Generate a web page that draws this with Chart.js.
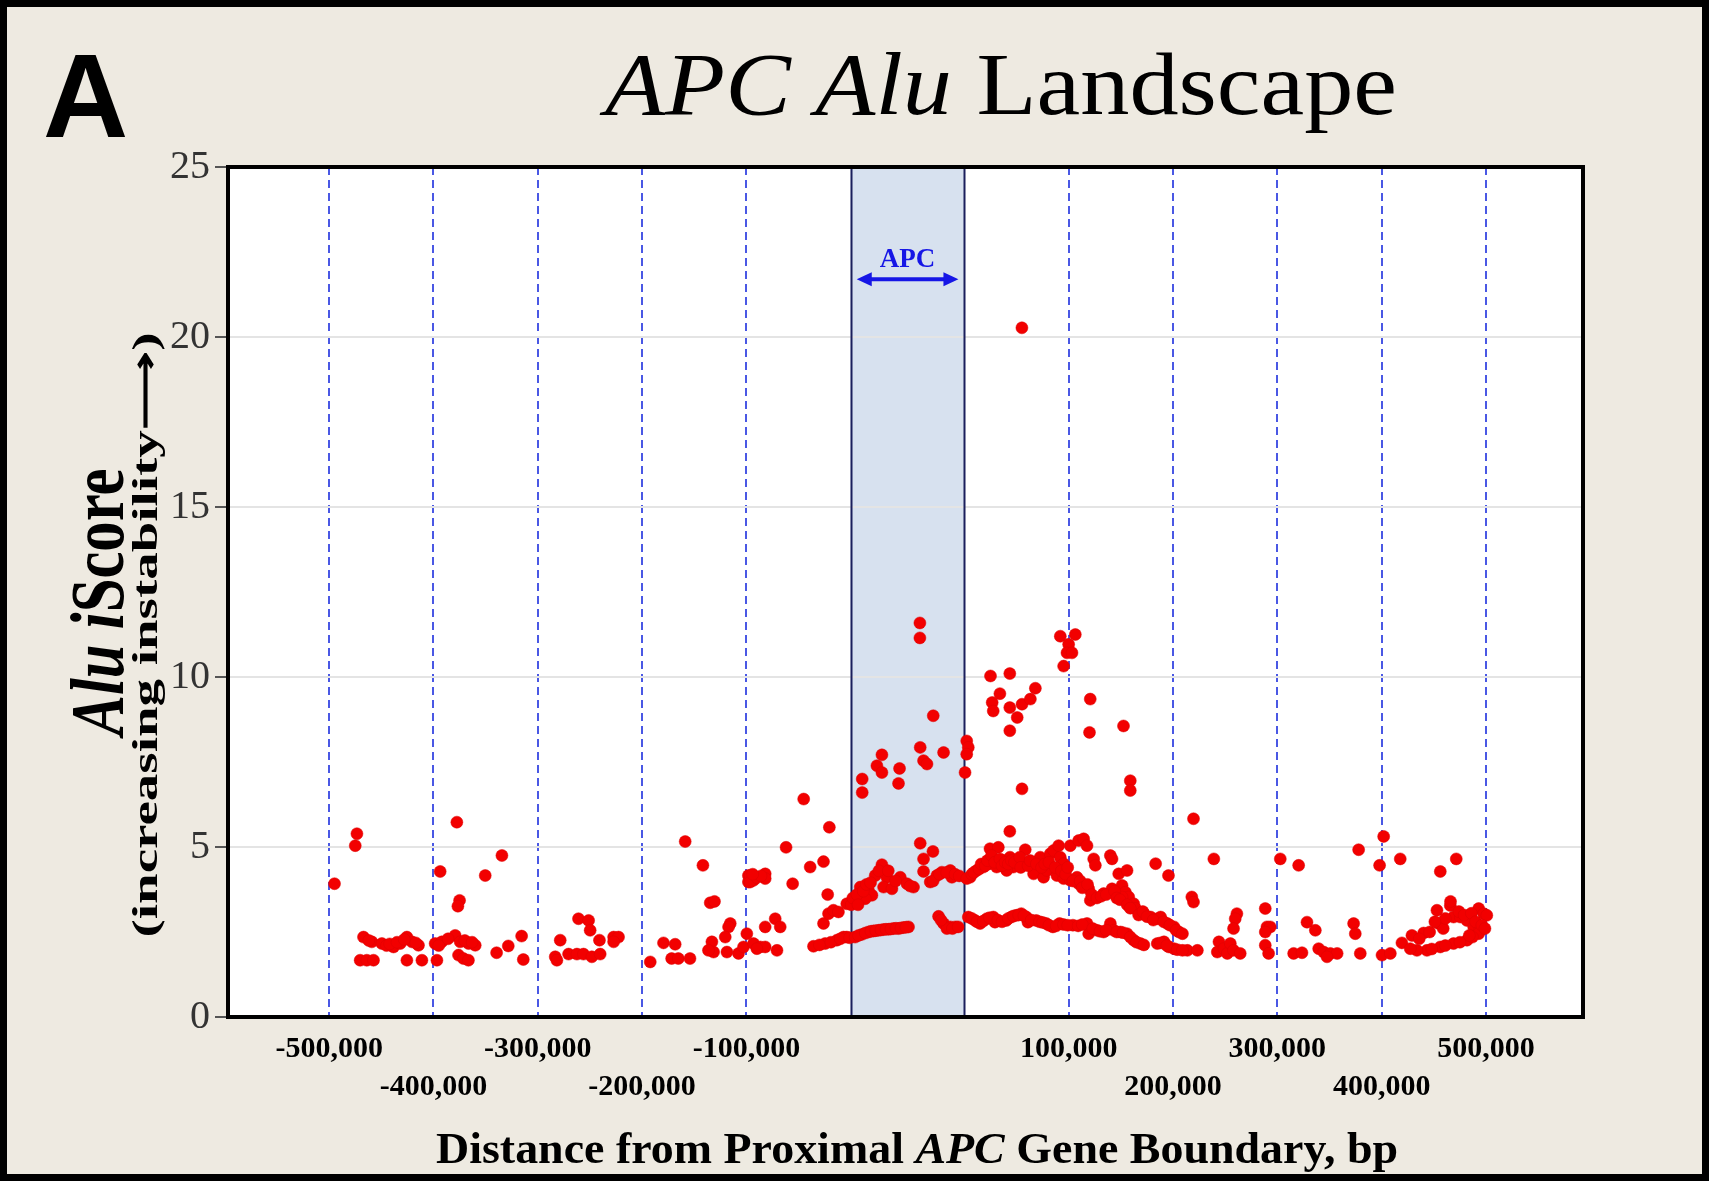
<!DOCTYPE html>
<html>
<head>
<meta charset="utf-8">
<script src="https://cdn.jsdelivr.net/npm/chart.js@4.4.1/dist/chart.umd.min.js"></script>
<style>
  html, body { margin: 0; padding: 0; background: #eeeae1; }
  #wrap { width: 1709px; height: 1181px; }
</style>
</head>
<body>
<div id="wrap"><canvas id="aluChart" width="1709" height="1181"></canvas></div>
<script>
// x positions are in kb along the plotted axis: upstream distances are negative,
// the APC gene body sits between 0 and geneLengthKb, downstream = geneLengthKb + distance
const geneLengthKb = 109;
const tickDistancesKb = [-500, -400, -300, -200, -100, 100, 200, 300, 400, 500];
const tickLabels = ['-500,000', '-400,000', '-300,000', '-200,000', '-100,000',
                    '100,000', '200,000', '300,000', '400,000', '500,000'];
const yTicks = [0, 5, 10, 15, 20, 25];

const positionKb = [
  -494.9, -473.4, -475,
  -467.1, -459.1, -449.5, -438.3, -431.9, -425.5, -420.7, -414.4, -398.4, -392, -379.2, -374.4, -366.4, -360,
  -462, -445, -442, -435, -428, -417, -395, -386, -370, -363,
  -470.3, -463.9, -457.5, -425.5, -411.1, -396.7, -376, -371.3, -366.5,
  -377.6, -393.6, -350.4, -375, -376.6,
  -334.4, -339.5, -328.3, -315.5, -313.9,
  -278.5, -283.3, -281.7, -270.5, -262.5, -256.2, -248.2, -240.2, -261, -251.3, -249.8, -240.9, -227.3, -222.6, -227.3,
  -192.2, -179.5, -168.3, -171.7, -165.3, -154.1, -158.7, -141.7, -134.7, -130.6, -115.5, -117.1, -120.3, -133.1,
  -131.5, -118.7, -107.6, -136.4, -99.6, -98.1, -98.1,
  -96.4, -93.2, -96.4, -82, -82, -90, -86, -94, -82, -72.4, -67.6, -102.8, -93.2, -86.8, -82, -70.7, -90,
  -62, -45.1, -20.5, -55.7, -38.9, -26.1, -22.1, -26.1, -21.3, -16.6, -11.8, -3.8, -35.7, -24.5, -13.3, -6.9, -3.8,
  -30, -19, -10, -1,
  4.2, 4.2, 10.7, 17, 21.8, 26.6, 31.4, 36.2, 41, 45.8, 50.6, 55.4,
  7.5, 14, 19.4, 24, 29, 33.8, 38.6, 43.4, 48.2, 53,
  9.1, 17, 20.3, 13.9, 23.5, 29.9, 34.7, 31.5, 39.5, 47.5, 53.9, 60.2,
  0.5, 2, 6, 7, 12, 15, 19, 27, 36, 43, 57,
  66.6, 78.8, 69.8, 69.8, 76.2, 82.6, 87.4, 95.4, 97, 79, 85, 92, 100, 104,
  84.2, 89, 95.4, 100.2, 92.2, 86.5, 97.5, 103,
  66.3, 66.3, 79.1, 66.6, 69.8, 73.1, 89,
  29.9, 25.1, 29.9, 46.8, 45.8, 11, 11,
  111.2, 112.7, 111.2, 109.6,
  114.4, 111.2, 120.7, 127.1, 133.5, 136.7, 133.5, 141.5, 139.9, 146.3, 152.7, 155.9, 149.5, 160.7, 165.5, 167.3,
  175.3, 180.1, 181.7, 184.9, 188.1, 191.3, 194.5, 199.3, 200.9, 204.1, 197.7, 204.1, 210.5, 216.9, 218.5, 224.9,
  228.1, 229.7, 210.5, 218.5, 223.3, 226.5, 232.9, 234.5, 248.9, 250.5, 256.9, 264.9, 242.5, 250.5, 260.1, 263.3,
  266.5, 271.3, 272.9, 260.1, 292.3, 304.6, 281.1, 287.5, 293.9, 297.1, 303.5, 309.9, 314.7,
  116, 118, 123, 125, 129, 131, 135, 138, 143, 145, 148, 151, 154, 157, 162, 163,
  170, 172, 178, 183, 186, 190, 196, 202, 206, 208, 213, 220, 222, 227, 231, 236,
  240, 245, 253, 255, 258, 265, 268, 276, 280, 284, 290, 300, 306, 312, 318,
  112.7, 119.2, 124, 130.4, 136.7, 138.3, 149.1, 153.9, 158.7, 163.5, 168.3, 169.9, 177.8, 187.4, 193.8, 200.2,
  213, 226.5, 228.1, 236.1, 242.5, 248.9, 252.1, 258.5, 264.9, 271.3, 277.7, 293.9, 300.3, 305.1, 309.9, 322.7,
  332.3, 348.1, 327, 328.6, 353, 351.4, 357.7, 361,
  116, 121, 127, 133, 141, 145, 151, 156, 161, 166, 173, 181, 184, 190, 197, 204,
  208, 218, 222, 232, 239, 245, 255, 261, 268, 274, 281, 297, 303, 313, 318,
  134, 152.5, 143, 135.6, 136.6, 152.5, 159.6, 152.5, 164.2, 172.2, 177, 164.2, 152.5, 200.9, 208.9, 215.3,
  207.3, 212.1, 204.1, 229.6, 228.9, 261.5, 268, 268, 328.6, 164.1,
  411.8, 429.4, 486.9, 510.9, 507, 526.8, 565.2, 580.5, 370.2, 368.6, 367, 363.9, 367, 373.4, 397.4, 399,
  402.2, 397.4, 397.4, 400.6, 424.6, 432.6, 437.4, 445.4, 448.6, 453.4, 459.8, 466.3, 456.6, 482.1, 483.7, 488.5,
  509.3, 517.3, 528.4, 538, 549.2, 562, 563.6, 574.8, 577.9, 584.4, 590.8, 597.2, 602, 606.8, 602, 590.8,
  577.9, 565.2, 552.4, 542.8, 536.4, 609.8, 602,
  545, 555, 568, 570, 583, 588, 595, 599, 605, 557, 570, 584, 596, 608, 560, 575, 593
];
const iScore = [
  3.92, 5.39, 5.04,
  2.35, 2.21, 2.16, 2.06, 2.16, 2.35, 2.21, 2.11, 2.16, 2.21, 2.40, 2.21, 2.16, 2.11,
  2.25, 2.10, 2.15, 2.20, 2.28, 2.18, 2.10, 2.30, 2.25, 2.20,
  1.67, 1.67, 1.67, 1.67, 1.67, 1.67, 1.82, 1.72, 1.67,
  5.73, 4.28, 4.16, 3.43, 3.26,
  4.75, 1.89, 2.09, 2.38, 1.69,
  2.26, 1.77, 1.67, 1.85, 1.85, 1.85, 1.77, 1.85, 2.89, 2.84, 2.55, 2.26, 2.35, 2.35, 2.21,
  1.62, 2.18, 2.14, 1.72, 1.72, 1.72, 5.16, 4.46, 3.36, 3.40, 2.75, 2.65, 2.35, 2.21,
  1.91, 1.91, 1.87, 1.96, 2.45, 4.16, 3.97,
  4.16, 4.02, 3.97, 4.21, 4.07, 4.10, 4.15, 4.20, 2.65, 2.89, 2.65, 2.06, 2.16, 2.06, 2.06, 1.96, 2.01,
  4.99, 6.41, 5.58, 3.92, 4.41, 4.57, 3.60, 2.75, 3.04, 3.14, 3.09, 3.33, 2.08, 2.16, 2.26, 2.35, 2.35,
  2.12, 2.20, 2.30, 2.33,
  3.38, 2.35, 2.43, 2.50, 2.53, 2.55, 2.57, 2.58, 2.60, 2.60, 2.63, 2.65,
  2.40, 2.47, 2.52, 2.54, 2.56, 2.58, 2.59, 2.61, 2.62, 2.64,
  3.82, 3.72, 3.58, 3.48, 4.16, 4.48, 4.11, 3.82, 3.77, 4.11, 3.92, 3.82,
  3.30, 3.50, 3.60, 3.30, 3.70, 3.90, 3.95, 4.30, 4.30, 4.00, 3.85,
  5.11, 4.87, 4.65, 4.28, 3.97, 4.16, 4.26, 4.31, 4.11, 4.00, 4.20, 4.25, 4.20, 4.15,
  2.96, 2.75, 2.65, 2.65, 2.60, 2.85, 2.60, 2.65,
  11.59, 11.15, 8.86, 7.93, 7.54, 7.44, 7.78,
  7.71, 7.39, 7.19, 7.31, 6.87, 7.00, 6.60,
  8.12, 7.93, 7.73, 7.19,
  4.11, 4.07, 4.31, 4.41, 4.51, 4.65, 4.95, 4.99, 4.41, 4.60, 4.70, 4.41, 4.31, 4.60, 4.51, 4.92,
  4.21, 4.60, 4.70, 4.11, 4.31, 4.80, 4.90, 5.04, 4.70, 4.51, 4.16, 4.07, 4.02, 4.11, 3.92, 3.87,
  3.77, 3.43, 5.04, 5.19, 5.24, 5.04, 4.65, 4.46, 4.75, 4.65, 4.21, 4.31, 3.63, 3.77, 3.87, 3.67,
  3.53, 3.33, 3.19, 3.53, 4.51, 4.16, 3.04, 2.94, 2.89, 2.94, 2.75, 2.65, 2.50,
  4.20, 4.25, 4.35, 4.50, 4.45, 4.60, 4.75, 4.55, 4.65, 4.45, 4.55, 4.50, 4.60, 4.55, 4.70, 4.40,
  4.45, 4.60, 4.50, 4.40, 4.50, 4.55, 4.40, 4.30, 4.20, 4.40, 4.00, 4.00, 3.80, 3.90, 3.60, 3.50,
  3.55, 3.60, 3.70, 3.50, 3.45, 3.30, 3.20, 3.00, 3.10, 2.95, 2.85, 2.80, 2.70, 2.55, 2.45,
  2.94, 2.84, 2.75, 2.89, 2.94, 2.79, 2.84, 2.94, 2.99, 3.04, 2.94, 2.79, 2.84, 2.75, 2.65, 2.75,
  2.70, 2.75, 2.45, 2.55, 2.50, 2.75, 2.55, 2.50, 2.45, 2.26, 2.16, 2.16, 2.21, 2.06, 2.01, 1.96,
  1.96, 4.65, 3.53, 3.38, 2.21, 1.91, 2.01, 1.87,
  2.90, 2.80, 2.82, 2.92, 2.85, 2.80, 2.90, 2.97, 3.00, 2.98, 2.85, 2.80, 2.78, 2.70, 2.68, 2.72,
  2.70, 2.68, 2.72, 2.60, 2.52, 2.55, 2.50, 2.48, 2.35, 2.20, 2.12, 2.18, 2.10, 1.98, 1.96,
  10.03, 10.10, 9.51, 9.25, 9.00, 9.10, 8.81, 8.42, 9.20, 9.35, 9.67, 6.71, 5.46, 11.20, 10.96, 11.25,
  10.71, 10.71, 10.32, 9.35, 8.37, 8.56, 6.95, 6.66, 5.83, 20.27,
  4.65, 4.46, 4.92, 5.31, 4.46, 4.65, 4.28, 4.65, 3.04, 2.89, 2.60, 2.16, 1.96, 1.87, 3.19, 2.65,
  2.65, 2.50, 2.11, 1.87, 1.87, 1.89, 2.79, 2.55, 2.01, 1.91, 1.87, 1.87, 1.77, 2.75, 2.45, 1.87,
  1.82, 1.87, 2.18, 2.40, 2.47, 3.14, 2.75, 3.28, 2.94, 2.94, 2.84, 2.65, 3.19, 3.04, 2.50, 2.26,
  2.16, 2.06, 1.96, 1.96, 2.01, 2.99, 2.45,
  2.30, 2.50, 2.60, 2.90, 3.10, 3.00, 3.05, 2.80, 2.70, 2.00, 2.10, 2.20, 2.35, 2.60, 2.80, 3.40, 2.40
];

const axisPos = d => d < 0 ? d : d + geneLengthKb;
const serif = '"Liberation Serif", "Times New Roman", serif';

// draws text runs ([text, italic]) centred on 0 with its baseline on 0, squeezed to a given width
function fitRuns(ctx, runs, width, size, weight) {
  const fonts = runs.map(r => (r[1] ? 'italic ' : '') + weight + ' ' + size + 'px ' + serif);
  let total = 0;
  runs.forEach((r, i) => { ctx.font = fonts[i]; total += ctx.measureText(r[0]).width; });
  ctx.save();
  ctx.scale(width / total, 1);
  ctx.textAlign = 'left';
  ctx.textBaseline = 'alphabetic';
  let x = -total / 2;
  runs.forEach((r, i) => {
    ctx.font = fonts[i];
    ctx.fillText(r[0], x, 0);
    x += ctx.measureText(r[0]).width;
  });
  ctx.restore();
}

const decor = {
  id: 'decor',
  beforeDraw(chart) {
    const {ctx, chartArea: a, scales: {x}} = chart;
    ctx.save();
    ctx.fillStyle = '#eeeae1';
    ctx.fillRect(0, 0, chart.width, chart.height);
    ctx.fillStyle = '#ffffff';
    ctx.fillRect(a.left, a.top, a.width, a.height);
    const g0 = x.getPixelForValue(0), g1 = x.getPixelForValue(geneLengthKb);
    ctx.fillStyle = '#d7e1ef';
    ctx.fillRect(g0, a.top, g1 - g0, a.height);
    ctx.restore();
  },
  beforeDatasetsDraw(chart) {
    const {ctx, chartArea: a, scales: {x}} = chart;
    ctx.save();
    ctx.strokeStyle = '#1b1f5c';
    ctx.lineWidth = 2;
    [0, geneLengthKb].forEach(v => {
      const px = Math.round(x.getPixelForValue(v)) + 0.5;
      ctx.beginPath(); ctx.moveTo(px, a.top); ctx.lineTo(px, a.bottom); ctx.stroke();
    });
    ctx.restore();
  },
  afterDraw(chart) {
    const {ctx, chartArea: a, scales: {x, y}} = chart;
    ctx.save();
    // plot frame
    ctx.strokeStyle = '#000';
    ctx.lineWidth = 4;
    ctx.strokeRect(a.left, a.top, a.width, a.height);
    // outer figure border
    ctx.lineWidth = 7;
    ctx.strokeRect(3.5, 3.5, chart.width - 7, chart.height - 7);

    // APC gene arrow
    const g0 = x.getPixelForValue(0) + 6, g1 = x.getPixelForValue(geneLengthKb) - 6;
    const ay = y.getPixelForValue(21.7);
    ctx.strokeStyle = '#1616e6';
    ctx.fillStyle = '#1616e6';
    ctx.lineWidth = 4;
    ctx.beginPath(); ctx.moveTo(g0 + 10, ay); ctx.lineTo(g1 - 10, ay); ctx.stroke();
    ctx.beginPath(); ctx.moveTo(g0, ay); ctx.lineTo(g0 + 15, ay - 7); ctx.lineTo(g0 + 15, ay + 7); ctx.closePath(); ctx.fill();
    ctx.beginPath(); ctx.moveTo(g1, ay); ctx.lineTo(g1 - 15, ay - 7); ctx.lineTo(g1 - 15, ay + 7); ctx.closePath(); ctx.fill();
    ctx.font = 'bold 27px ' + serif;
    ctx.textAlign = 'center';
    ctx.textBaseline = 'alphabetic';
    ctx.fillText('APC', (g0 + g1) / 2, y.getPixelForValue(22.05));

    // panel letter
    ctx.fillStyle = '#000';
    ctx.font = 'bold 118px "Liberation Sans", Arial, sans-serif';
    ctx.textAlign = 'left';
    ctx.fillText('A', 43, 137);

    // title
    ctx.save();
    ctx.translate(1001, 114);
    fitRuns(ctx, [['APC Alu', true], [' Landscape', false]], 792, 88, 'normal');
    ctx.restore();

    // x axis title
    ctx.save();
    ctx.translate(917, 1163);
    fitRuns(ctx, [['Distance from Proximal ', false], ['APC', true], [' Gene Boundary, bp', false]], 962, 44, 'bold');
    ctx.restore();

    // y axis titles
    ctx.save();
    ctx.translate(123, 602);
    ctx.rotate(-Math.PI / 2);
    fitRuns(ctx, [['Alu i', true], ['Score', false]], 267, 76, 'bold');
    ctx.restore();
    ctx.save();
    ctx.translate(157, 635);
    ctx.rotate(-Math.PI / 2);
    fitRuns(ctx, [['(increasing instability\u27F6)', false]], 605, 36, 'bold');
    ctx.restore();

    ctx.restore();
  }
};

new Chart(document.getElementById('aluChart'), {
  type: 'scatter',
  data: {
    datasets: [{
      data: positionKb.map((v, i) => ({x: v, y: iScore[i]})),
      pointRadius: 6,
      pointBackgroundColor: '#f20000',
      pointBorderColor: '#dd0000',
      pointBorderWidth: 0.5
    }]
  },
  options: {
    responsive: false,
    animation: false,
    events: [],
    layout: { padding: { left: 0, right: 126, top: 167, bottom: 0 } },
    plugins: { legend: { display: false }, tooltip: { enabled: false } },
    scales: {
      x: {
        type: 'linear',
        min: -597,
        max: 702,
        afterBuildTicks: s => { s.ticks = tickDistancesKb.map(d => ({value: axisPos(d)})); },
        afterFit: s => { s.height = 164; },
        ticks: {
          autoSkip: false,
          maxRotation: 0,
          padding: 13,
          color: '#000',
          font: { family: serif, size: 30, weight: 'bold', lineHeight: 1.27 },
          // odd hundreds of kb sit on the upper row, even ones on the lower row
          callback: (v, i) => (Math.abs(tickDistancesKb[i]) / 100) % 2 === 1 ? [tickLabels[i], ''] : ['', tickLabels[i]]
        },
        grid: { color: '#4a58e4', lineWidth: 2, drawTicks: false },
        border: { display: false, dash: [8, 5] }
      },
      y: {
        min: 0,
        max: 25,
        afterBuildTicks: s => { s.ticks = yTicks.map(v => ({value: v})); },
        afterFit: s => { s.width = 228; },
        ticks: {
          padding: 5,
          color: '#333',
          font: { family: serif, size: 40 }
        },
        grid: { color: '#e4e4e4', lineWidth: 2, tickColor: '#555', tickLength: 13, tickWidth: 2 },
        border: { display: false }
      }
    }
  },
  plugins: [decor]
});
</script>
</body>
</html>
